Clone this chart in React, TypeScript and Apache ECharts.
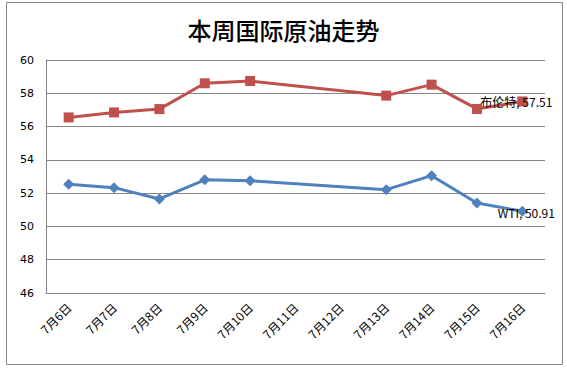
import React, { useEffect, useRef } from "react";
import * as echarts from "echarts";

const categories = ["7月6日", "7月7日", "7月8日", "7月9日", "7月10日", "7月11日", "7月12日", "7月13日", "7月14日", "7月15日", "7月16日"];
const brent: (number | null)[] = [56.55, 56.85, 57.05, 58.6, 58.74, null, null, 57.86, 58.52, 57.06, 57.51];
const wti: (number | null)[] = [52.53, 52.33, 51.65, 52.8, 52.75, null, null, 52.21, 53.05, 51.41, 50.91];
const yTicks = { min: 46, max: 60, interval: 2 };

export default function App() {
  const ref = useRef<HTMLDivElement>(null);
  useEffect(() => {
    if (!ref.current) return;
    const chart = echarts.init(ref.current, null, { renderer: "svg" });
    const lastLabel = (name: string, offset: number[]) => ({
      show: true,
      position: "inside",
      offset,
      formatter: (p: any) => (p.dataIndex === categories.length - 1 ? `${name}, ${p.value}` : ""),
      color: "#000",
      fontSize: 12,
      fontFamily: "'Noto Sans CJK SC', 'DejaVu Sans', sans-serif",
    });
    chart.setOption({
      animation: false,
      backgroundColor: "#fff",
      title: {
        text: "本周国际原油走势",
        left: "center",
        top: 12,
        textStyle: { fontSize: 24, fontWeight: 500, color: "#000", fontFamily: "'Noto Sans CJK SC', sans-serif" },
      },
      graphic: [
        { type: "rect", shape: { x: 6.5, y: 2.5, width: 556, height: 362 }, style: { fill: "none", stroke: "#868686", lineWidth: 1 }, silent: true },
      ],
      grid: { left: 46, right: 22, top: 60, bottom: 77 },
      xAxis: {
        type: "category",
        data: categories,
        boundaryGap: true,
        axisLine: { lineStyle: { color: "#868686" } },
        axisTick: { show: false },
        axisLabel: { rotate: 45, color: "#000", fontSize: 12, margin: 12, interval: 0, fontFamily: "'Noto Sans CJK SC', sans-serif" },
      },
      yAxis: {
        type: "value",
        min: yTicks.min,
        max: yTicks.max,
        interval: yTicks.interval,
        axisLine: { show: true, lineStyle: { color: "#868686" } },
        axisTick: { show: false },
        axisLabel: { color: "#000", fontSize: 11, margin: 12, fontFamily: "'DejaVu Sans', sans-serif" },
        splitLine: { lineStyle: { color: "#868686" } },
      },
      series: [
        {
          name: "布伦特",
          type: "line",
          data: brent,
          connectNulls: true,
          symbol: "rect",
          symbolSize: 10,
          lineStyle: { color: "#C0504D", width: 3 },
          itemStyle: { color: "#C0504D" },
          label: lastLabel("布伦特", [-6, 0]),
        },
        {
          name: "WTI",
          type: "line",
          data: wti,
          connectNulls: true,
          symbol: "diamond",
          symbolSize: 11,
          lineStyle: { color: "#4F81BD", width: 3 },
          itemStyle: { color: "#4F81BD" },
          label: lastLabel("WTI", [4, 1]),
        },
      ],
    });
    return () => chart.dispose();
  }, []);
  return <div ref={ref} style={{ position: "absolute", left: 0, top: 0, width: 567, height: 370 }} />;
}
